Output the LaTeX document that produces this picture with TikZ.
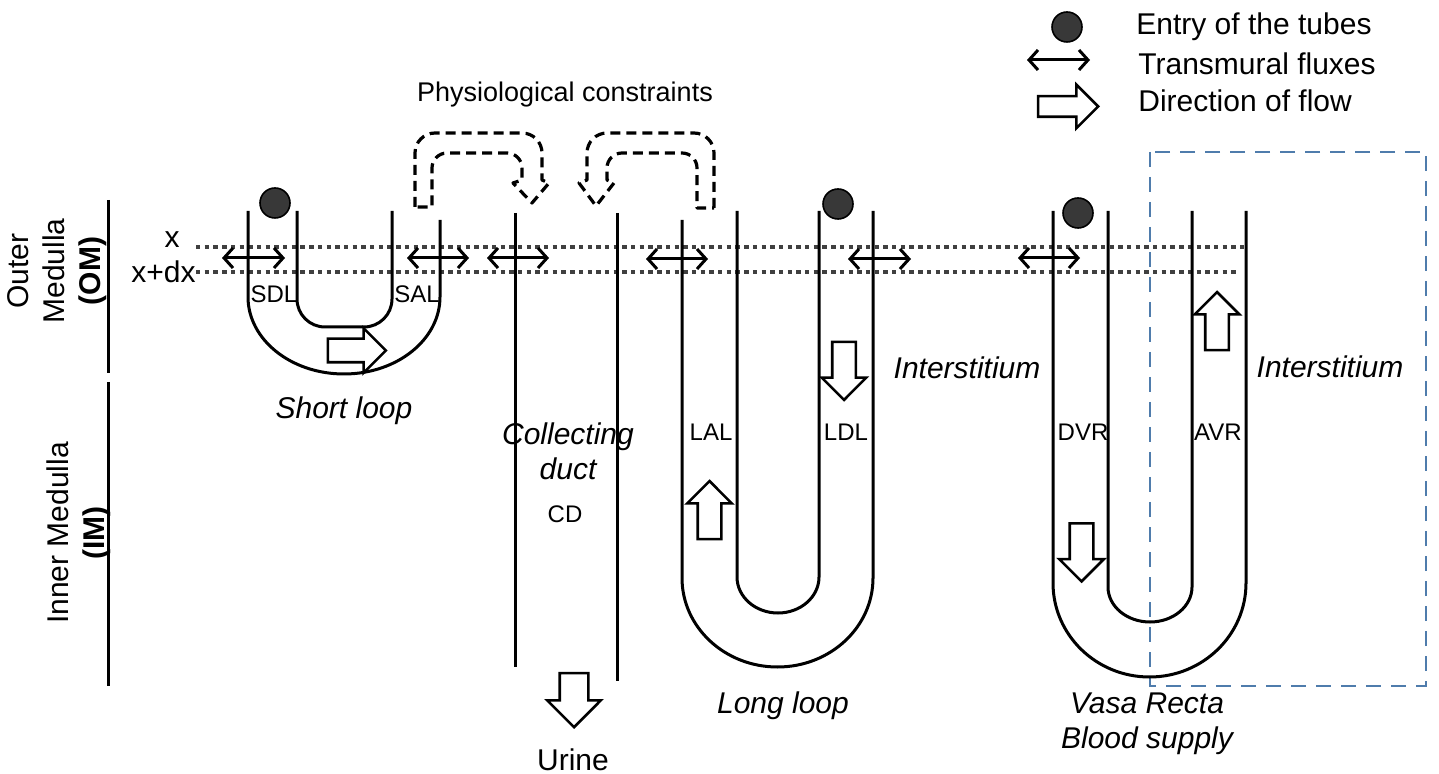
\documentclass[tikz,border=0pt]{standalone}
\usepackage{fontspec}
\setmainfont{Liberation Sans}
\usetikzlibrary{arrows.meta,shapes.arrows}
\definecolor{dotgray}{HTML}{404040}
\definecolor{entryfill}{HTML}{383838}
\definecolor{boxblue}{HTML}{4F7CAC}
\begin{document}
\begin{tikzpicture}[x=0.5pt,y=0.5pt,
  tube/.style={line width=1.5pt},
  flux/.style={line width=1.5pt,{Straight Barb[length=4.5pt,width=10pt]}-{Straight Barb[length=4.5pt,width=10pt]}},
  level/.style={dotgray,line width=1.8pt,dash pattern=on 2.2pt off 2.15pt},
  constraint/.style={line width=1.6pt,dash pattern=on 5pt off 3pt,line join=round},
  entrydot/.style={circle,draw=black,line width=0.8pt,fill=entryfill,minimum size=15pt,inner sep=0pt},
  flow/.style={single arrow,draw,line width=1.3pt,fill=white,inner xsep=0pt,inner ysep=5.25pt,
    minimum width=0pt,minimum height=29pt,single arrow head extend=5.25pt,single arrow tip angle=90},
  lbl/.style={font=\fontsize{15}{18}\selectfont,inner sep=0pt},
  small/.style={font=\fontsize{12}{14}\selectfont,inner sep=0pt},
  region/.style={boxblue,line width=1.2pt,dash pattern=on 7.5pt off 5pt}]
\useasboundingbox (0,0) rectangle (1439,-774);

% medulla axis
\coordinate (om-t) at (108,-200); \coordinate (om-b) at (108,-373);
\coordinate (im-t) at (108,-382); \coordinate (im-b) at (108,-686);
\draw[tube] (om-t) -- (om-b);
\draw[tube] (im-t) -- (im-b);
\node[lbl,rotate=90,align=center] (omlabel) at (57,-271) {Outer\\Medulla\\\textbf{(OM)}};
\node[lbl,rotate=90,align=center] (imlabel) at (79,-533) {Inner Medulla\\\textbf{(IM)}};

% levels x and x+dx
\coordinate (lx-l) at (196,-247); \coordinate (lx-r) at (1245,-247);
\coordinate (ldx-l) at (196,-272); \coordinate (ldx-r) at (1237,-272);
\draw[level] (lx-l) -- (lx-r);
\draw[level] (ldx-l) -- (ldx-r);
\node[lbl,anchor=base] (xlab) at (172,-248) {x};
\node[lbl,anchor=base east] (dxlab) at (196,-283) {x+dx};

% short loop
\draw[tube] (248,-211) -- (248,-297) arc[start angle=180,end angle=360,x radius=96,y radius=77] -- (440,-220);
\draw[tube] (297,-211) -- (297,-299) arc[start angle=180,end angle=270,radius=28] -- (364,-327)
  arc[start angle=270,end angle=360,radius=28] -- (392,-211);
\node[entrydot] (e-short) at (275,-203) {};
\node[small,anchor=base] (sdl) at (274,-303) {SDL};
\node[small,anchor=base] (sal) at (417,-303) {SAL};
\node[flow] (f-short) at (351,-350.5) {};
\node[lbl,anchor=base] (shortloop) at (344,-419) {\itshape Short loop};

% collecting duct
\draw[tube] (515,-213) -- (515,-667);
\draw[tube] (617,-213) -- (617,-681);
\node[lbl,anchor=base] (coll1) at (568,-445) {\itshape Collecting};
\node[lbl,anchor=base] (coll2) at (568,-480) {\itshape duct};
\node[small,anchor=base] (cd) at (565,-523) {CD};
\node[flow,inner ysep=6.5pt,minimum height=27pt,single arrow head extend=6.25pt,rotate=-90] (f-urine) at (574,-693) {};
\node[lbl,anchor=base] (urine) at (573,-770) {Urine};

% physiological constraints
\node[font=\fontsize{13.5}{16}\selectfont,inner sep=0pt,anchor=base] (phys) at (565,-102) {Physiological constraints};
\draw[constraint] (415,-207) -- (415,-153) arc[start angle=180,end angle=90,radius=20] -- (522,-133)
  arc[start angle=90,end angle=0,radius=20] -- (542,-180) -- (549,-183) -- (532,-203) -- (513,-183) -- (522,-180)
  -- (522,-168) arc[start angle=0,end angle=90,radius=15] -- (447,-153)
  arc[start angle=90,end angle=180,radius=15] -- (432,-168) -- (432,-207) -- cycle;
\draw[constraint] (714,-208) -- (714,-153) arc[start angle=0,end angle=90,radius=20] -- (607,-133)
  arc[start angle=90,end angle=180,radius=20] -- (587,-180) -- (579,-183) -- (596,-206) -- (614,-183) -- (607,-180)
  -- (607,-168) arc[start angle=180,end angle=90,radius=15] -- (682,-153)
  arc[start angle=90,end angle=0,radius=15] -- (697,-168) -- (697,-208) -- cycle;

% long loop
\draw[tube] (682,-220) -- (682,-578) arc[start angle=180,end angle=360,x radius=95.5,y radius=89] -- (873,-211);
\draw[tube] (737,-211) -- (737,-577) arc[start angle=180,end angle=360,x radius=41,y radius=36] -- (819,-211);
\node[entrydot] (e-long) at (838,-204) {};
\node[small,anchor=base] (lal) at (711,-441) {LAL};
\node[small,anchor=base] (ldl) at (846,-441) {LDL};
\node[flow,rotate=90] (f-lal) at (709.5,-516) {};
\node[flow,rotate=-90] (f-ldl) at (844,-365) {};
\node[lbl,anchor=base] (longloop) at (783,-713) {\itshape Long loop};
\node[lbl,anchor=base] (inter1) at (967,-379) {\itshape Interstitium};

% vasa recta
\draw[region] (1150,-152) rectangle (1426,-686);
\draw[tube] (1053,-211) -- (1053,-583) arc[start angle=180,end angle=360,x radius=96.5,y radius=94] -- (1246,-211);
\draw[tube] (1108,-211) -- (1108,-587) arc[start angle=180,end angle=360,x radius=42,y radius=35] -- (1192,-211);
\node[entrydot] (e-vasa) at (1078,-213) {};
\node[small,anchor=base] (dvr) at (1083,-441) {DVR};
\node[small,anchor=base] (avr) at (1218,-441) {AVR};
\node[flow,rotate=-90] (f-dvr) at (1081.5,-546.5) {};
\node[flow,rotate=90] (f-avr) at (1217,-327) {};
\node[lbl,anchor=base] (inter2) at (1330,-378) {\itshape Interstitium};
\node[lbl,anchor=base] (vasa1) at (1147,-713) {\itshape Vasa Recta};
\node[lbl,anchor=base] (vasa2) at (1147,-748) {\itshape Blood supply};

% transmural fluxes
\foreach \n/\a/\b/\y in {sdl/222/285/258, sal/407/469/258, cd/487/549/258, lal/646/708/259,
    ldl/848/911/259, dvr/1018/1080/258, leg/1027/1090/60} {
  \coordinate (\n-l) at (\a,-\y); \coordinate (\n-r) at (\b,-\y);
  \draw[flux] (\n-l) -- (\n-r);
}

% legend
\node[entrydot] (leg-dot) at (1067,-27) {};
\node[lbl,anchor=base west] (leg1) at (1136,-35) {Entry of the tubes};
\node[lbl,anchor=base west] (leg2) at (1138,-75) {Transmural fluxes};
\node[flow,inner ysep=4.5pt,minimum height=30pt,single arrow head extend=5.75pt] (leg-flow) at (1063,-106.5) {};
\node[lbl,anchor=base west] (leg3) at (1138,-112) {Direction of flow};
\end{tikzpicture}
\end{document}
